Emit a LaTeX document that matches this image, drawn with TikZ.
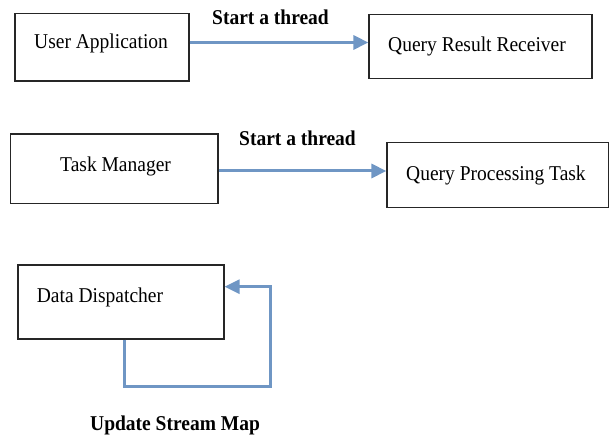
\documentclass[tikz,border=0pt]{standalone}
\usepackage{fontspec}
\setmainfont{Liberation Serif}
\usetikzlibrary{arrows.meta}
\definecolor{arrowblue}{RGB}{111,150,196}
\newcommand{\tallt}[1]{\scalebox{1}[1.08]{#1}}
\begin{document}
\begin{tikzpicture}[x=1pt,y=-1pt,
  box/.style={draw=black!85,line width=1.2pt,rectangle,inner sep=0pt},
  txt/.style={inner sep=0pt,anchor=base west,font=\fontsize{19.5}{22}\selectfont},
  btxt/.style={inner sep=0pt,anchor=base west,font=\fontsize{19.5}{22}\selectfont\bfseries},
  flow/.style={draw=arrowblue,line width=3pt,-{Triangle[length=15pt,width=14pt]}}]
\useasboundingbox (0,0) rectangle (609,435);
% boxes
\node[box,minimum width=174pt,minimum height=67.7pt] (ua) at (102,47.2) {};
\node[box,minimum width=223pt,minimum height=64.4pt] (qrr) at (480.5,46.5) {};
\node[box,minimum width=207.3pt,minimum height=69.3pt] (tm) at (114.3,168.7) {};
\node[box,minimum width=221.5pt,minimum height=65pt] (qpt) at (497.75,175.2) {};
\node[box,minimum width=206pt,minimum height=74pt] (dd) at (121,302) {};
% texts
\node[txt] (tua) at (34,49) {\tallt{User Application}};
\node[txt] (tqrr) at (388,52) {\tallt{Query Result Receiver}};
\node[txt] (ttm) at (60,171.7) {\tallt{Task Manager}};
\node[txt] (tqpt) at (406,180.7) {\tallt{Query Processing Task}};
\node[txt] (tdd) at (36.7,302.3) {\tallt{Data Dispatcher}};
% arrows
\draw[flow] (ua.east |- 0,42.5) -- (qrr.west |- 0,42.5);
\node[btxt] (l1) at (212,25) {\tallt{Start a thread}};
\draw[flow] (tm.east |- 0,171) -- (qpt.west |- 0,171);
\node[btxt] (l2) at (239,146) {\tallt{Start a thread}};
\coordinate (c1) at (124,386.7);
\coordinate (c2) at (270,386.7);
\coordinate (c3) at (270,286.7);
\draw[flow] (dd.south -| c1) -- (c1) -- (c2) -- (c3) -- (dd.east |- c3);
\node[btxt] (l3) at (90,430) {\tallt{Update Stream Map}};
\end{tikzpicture}
\end{document}
